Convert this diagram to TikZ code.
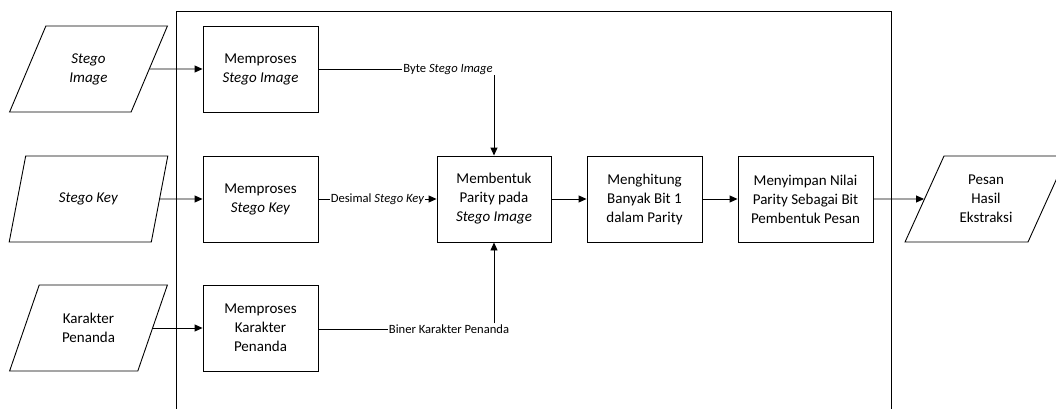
\documentclass[tikz,border=0pt]{standalone}
\usepackage{fontspec}
\setmainfont{Carlito}
\usetikzlibrary{arrows.meta,shapes.geometric}
\tikzset{proses/.style={draw,align=center,minimum width=115pt,minimum height=86pt,inner sep=2pt,line width=0.9pt,font=\fontsize{15}{19}\selectfont},dataio/.style={draw,trapezium,trapezium left angle=63,trapezium right angle=117,trapezium stretches=true,minimum width=159pt,minimum height=86pt,inner sep=2pt,align=center,line width=0.9pt,font=\fontsize{15}{19}\selectfont},alur/.style={-{Triangle[length=8pt,width=7pt]},line width=0.9pt},garis/.style={line width=0.9pt},ket/.style={font=\fontsize{12.6}{14}\selectfont,fill=white,inner sep=1pt}}

\begin{document}
\begin{tikzpicture}[x=1pt,y=-1pt]
\useasboundingbox (0,0) rectangle (1056,409);
% batas sistem
\draw[garis] (176,409)--(176,11)--(891,11)--(891,409);
% masukan
\node[dataio] (inImg) at (88.5,69) {\textit{Stego}\\\textit{Image}};
\node[dataio] (inKey) at (88.5,199) {\textit{Stego Key}};
\node[dataio] (inChar) at (88.5,328) {Karakter\\Penanda};
% proses awal
\node[proses] (pImg) at (260.5,69) {Memproses\\\textit{Stego Image}};
\node[proses] (pKey) at (260.5,199) {Memproses\\\textit{Stego Key}};
\node[proses] (pChar) at (260.5,328) {Memproses\\Karakter\\Penanda};
% proses utama
\node[proses,minimum width=114pt] (parity) at (494,199) {Membentuk\\Parity pada\\\textit{Stego Image}};
\node[proses] (hitung) at (644.5,199) {Menghitung\\Banyak Bit 1\\dalam Parity};
\node[proses,minimum width=135pt] (simpan) at (805.5,199) {Menyimpan Nilai\\Parity Sebagai Bit\\Pembentuk Pesan};
\node[dataio,minimum width=162pt] (pesan) at (986,199) {Pesan\\Hasil\\Ekstraksi};
% keterangan
\node[ket] (byteLbl) at (448,69) {Byte \textit{Stego Image}};
\node[ket] (binerLbl) at (449,329) {Biner Karakter Penanda};
% alur
\draw[alur] (inImg) -- (pImg);
\draw[alur] (inKey) -- (pKey);
\draw[alur] (inChar.east) -- (pChar.west |- inChar.east);
\draw[garis] (pImg.east) -- (byteLbl.west);
\draw[alur] (byteLbl.south -| parity.north) -- (parity.north);
\draw[alur] (pKey) -- node[ket]{Desimal \textit{Stego Key}} (parity);
\draw[garis] (pChar.east |- binerLbl.west) -- (binerLbl.west);
\draw[alur] (binerLbl.north -| parity.south) -- (parity.south);
\draw[alur] (parity) -- (hitung);
\draw[alur] (hitung) -- (simpan);
\draw[alur] (simpan) -- (pesan);
\end{tikzpicture}
\end{document}
